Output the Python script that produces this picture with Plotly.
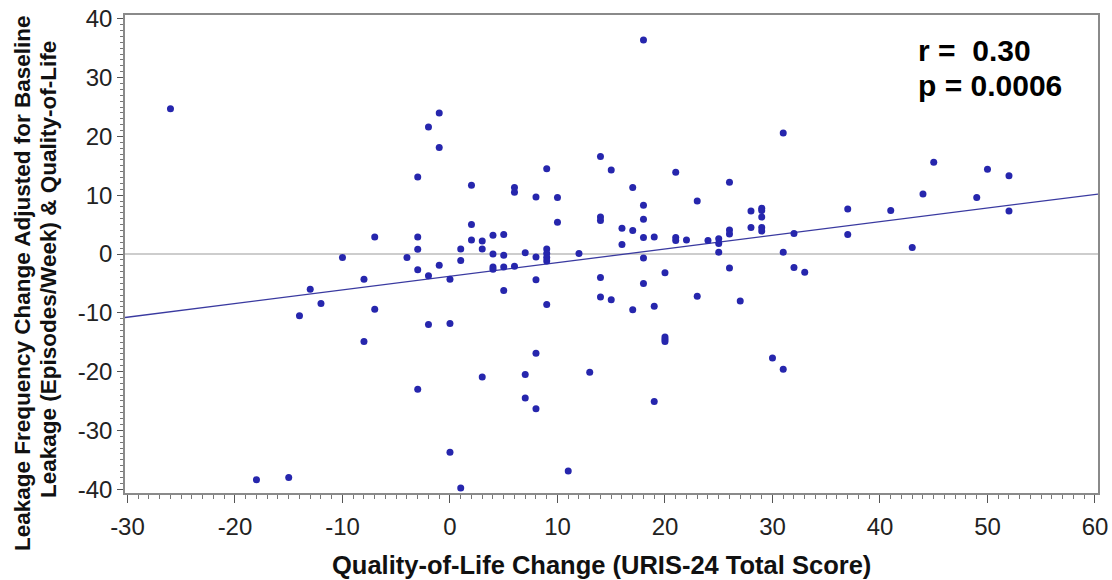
import plotly.graph_objects as go

# Quality-of-Life change (URIS-24 total score)
qol_change = [
    -26, -18, -15, -14, -13, -12, -10, -8, -8, -7, -7, -4,
    -3, -3, -3, -3, -3, -2, -2, -2, -1, -1, -1, 0, 0, 0,
    1, 1, 1, 2, 2, 2, 3, 3, 3, 4, 4, 4, 4, 5, 5, 5, 5,
    6, 6, 6, 7, 7, 7, 8, 8, 8, 8, 8, 9, 9, 9, 9, 9, 9,
    10, 10, 11, 12, 13, 14, 14, 14, 14, 14, 15, 15, 16, 16,
    17, 17, 17, 18, 18, 18, 18, 18, 18, 19, 19, 19,
    20, 20, 20, 20, 21, 21, 21, 22, 23, 23, 24, 25, 25, 25,
    26, 26, 26, 26, 27, 28, 28, 29, 29, 29, 29, 29, 30,
    31, 31, 31, 32, 32, 33, 37, 37, 41, 43, 44, 45, 49, 50, 52, 52,
]
# Leakage frequency change adjusted for baseline leakage & QoL
leak_change = [
    24.7, -38.4, -38.0, -10.5, -6.0, -8.4, -0.6, -4.3, -14.9, 2.9, -9.4, -0.6,
    13.1, 2.9, 0.8, -2.7, -23.0, 21.6, -3.7, -12.0, 24.0, 18.1, -1.9, -4.3, -11.8, -33.7,
    0.85, -1.1, -39.8, 11.7, 5.0, 2.4, 2.2, 0.85, -20.9, 3.2, 0.0, -2.2, -2.6, 3.3, -0.2, -2.2, -6.2,
    11.3, 10.5, -2.1, 0.2, -20.5, -24.5, 9.7, -0.5, -4.4, -16.9, -26.3, 14.5, 0.85, 0.1, -0.6, -1.2, -8.6,
    9.6, 5.4, -36.9, 0.1, -20.1, 16.6, 6.3, 5.7, -4.0, -7.3, 14.3, -7.8, 4.4, 1.6,
    11.3, 4.0, -9.5, 36.4, 8.3, 5.9, 2.8, -0.7, -5.0, 2.9, -8.9, -25.1,
    -3.2, -14.1, -14.5, -14.9, 13.9, 2.8, 2.3, 2.4, 9.0, -7.2, 2.3, 2.6, 1.8, 0.3,
    12.2, 4.1, 3.4, -2.4, -8.0, 7.3, 4.5, 7.8, 7.4, 6.3, 4.5, 3.9, -17.7,
    20.6, 0.3, -19.6, 3.5, -2.3, -3.1, 7.65, 3.3, 7.4, 1.1, 10.2, 15.6, 9.6, 14.4, 13.3, 7.3,
]

# Fitted regression line
fit_slope = 0.232
fit_intercept = -3.79
x_range = [-30.23, 60.28]
y_range = [-40.65, 40.65]

x_tick_vals = [-30, -20, -10, 0, 10, 20, 30, 40, 50, 60]
x_tick_text = ["-30", "-20", "-10", "0", "10", "20", "30", "40", "50", "60"]
y_tick_vals = [-40, -30, -20, -10, 0, 10, 20, 30, 40]
y_tick_text = ["-40", "-30", "-20", "-10", "0", "10", "20", "30", "40"]

x_title = "Quality-of-Life Change (URIS-24 Total Score)"
y_title_line1 = "Leakage Frequency Change Adjusted for Baseline"
y_title_line2 = "Leakage (Episodes/Week) & Quality-of-Life"
r_text = "r =  0.30"
p_text = "p = 0.0006"

fit_x = x_range
fit_y = [fit_intercept + fit_slope * v for v in fit_x]

FONT = "Arial, 'Liberation Sans', sans-serif"
W, H = 1112, 580
ML, MR, MT, MB = 125, 14, 15, 87
PW, PH = W - ML - MR, H - MT - MB

def px_x(px):
    return (px - ML) / PW

def px_y(py):
    return (H - MB - py) / PH

fig = go.Figure()
fig.add_trace(go.Scatter(
    x=fit_x, y=fit_y, mode="lines",
    line=dict(color="#3a3aa0", width=1.3),
    hoverinfo="skip", showlegend=False,
))
fig.add_trace(go.Scatter(
    x=qol_change, y=leak_change, mode="markers",
    marker=dict(color="#2626ad", size=7, line=dict(width=0)),
    showlegend=False,
))

fig.add_shape(type="line", xref="paper", x0=0, x1=1, yref="y", y0=0, y1=0,
              line=dict(color="#bdbdbd", width=1.5), layer="below")

fig.add_annotation(xref="paper", yref="paper", x=px_x(916), y=px_y(51), xanchor="left",
                   yanchor="middle", text=f"<b>{r_text}</b>", showarrow=False,
                   font=dict(family=FONT, size=30, color="black"))
fig.add_annotation(xref="paper", yref="paper", x=px_x(916), y=px_y(85), xanchor="left",
                   yanchor="middle", text=f"<b>{p_text}</b>", showarrow=False,
                   font=dict(family=FONT, size=30, color="black"))

# axis titles
fig.add_annotation(xref="paper", yref="paper", x=px_x(601), y=px_y(565), xanchor="center",
                   yanchor="middle", text=f"<b>{x_title}</b>", showarrow=False,
                   font=dict(family=FONT, size=25.5, color="#111111"))
fig.add_annotation(xref="paper", yref="paper", x=px_x(22), y=px_y(283), xanchor="center",
                   yanchor="middle", text=f"<b>{y_title_line1}</b>", showarrow=False,
                   textangle=-90,
                   font=dict(family=FONT, size=22.5, color="#111111"))
fig.add_annotation(xref="paper", yref="paper", x=px_x(48), y=px_y(270), xanchor="center",
                   yanchor="middle", text=f"<b>{y_title_line2}</b>", showarrow=False,
                   textangle=-90,
                   font=dict(family=FONT, size=22.5, color="#111111"))

fig.update_layout(
    width=W, height=H,
    margin=dict(l=ML, r=MR, t=MT, b=MB),
    paper_bgcolor="white", plot_bgcolor="white",
    font=dict(family=FONT, color="#222222"),
    xaxis=dict(
        range=x_range, tickvals=x_tick_vals, ticktext=x_tick_text,
        showgrid=False, zeroline=False, automargin=False,
        showline=True, linecolor="#8a8a8a", linewidth=1.5, mirror=True,
        ticks="outside", ticklen=8, tickcolor="#555555", tickwidth=1,
        minor=dict(dtick=1, ticks="outside", ticklen=4, tickcolor="#777777", showgrid=False),
        tickfont=dict(family=FONT, size=24, color="#222222"),
        ticklabelstandoff=3,
    ),
    yaxis=dict(
        range=y_range, tickvals=y_tick_vals, ticktext=y_tick_text,
        showgrid=False, zeroline=False, automargin=False,
        showline=True, linecolor="#8a8a8a", linewidth=1.5, mirror=True,
        ticks="outside", ticklen=6, tickcolor="#555555", tickwidth=1,
        minor=dict(dtick=1, ticks="outside", ticklen=3, tickcolor="#777777", showgrid=False),
        tickfont=dict(family=FONT, size=24, color="#222222"),
        ticklabelstandoff=0,
    ),
)

fig.write_html(
    "out.html",
    config={"displayModeBar": False},
    post_script="document.body.style.margin='0';document.body.style.padding='0';"
                "document.body.style.overflow='hidden';",
)
